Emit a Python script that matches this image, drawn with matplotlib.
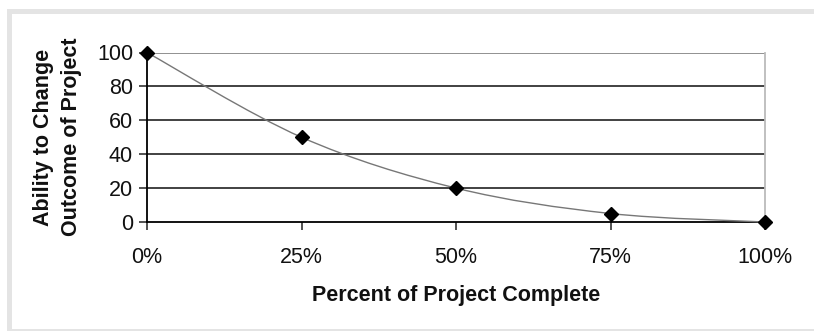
import matplotlib
matplotlib.use("Agg")
import matplotlib.pyplot as plt
from matplotlib.path import Path
from matplotlib.patches import PathPatch, Rectangle
import numpy as np

plt.rcParams['font.family'] = ['Liberation Sans', 'DejaVu Sans']

# Data
percent_complete = [0, 25, 50, 75, 100]
ability_to_change = [100, 50, 20, 5, 0]
x_tick_labels = ['0%', '25%', '50%', '75%', '100%']
y_ticks = [0, 20, 40, 60, 80, 100]

W, H = 814, 331
fig = plt.figure(figsize=(W / 100, H / 100), dpi=100)
fig.patch.set_facecolor('white')

# Light grey outer frame
fig.patches.append(Rectangle((8.5 / W, 1 - 330.5 / H), (W + 10) / W, (330.5 - 10.5) / H,
                             transform=fig.transFigure, fill=False,
                             edgecolor='#e4e4e4', linewidth=3.6, zorder=0))

left, right, top, bottom = 147, 765, 52.5, 222
ax = fig.add_axes([left / W, 1 - bottom / H, (right - left) / W, (bottom - top) / H])
ax.set_xlim(0, 100)
ax.set_ylim(0, 100)

# Horizontal gridlines
for yv in y_ticks[1:]:
    ax.axhline(yv, color='#333333' if yv < 100 else '#888888', linewidth=1.3, zorder=1)

# Smooth bezier curve through the points (Catmull-Rom style control points)
xs = np.array(percent_complete, dtype=float)
ys = np.array(ability_to_change, dtype=float)
pts = np.column_stack([xs, ys])
n = len(pts)
verts = [tuple(pts[0])]
codes = [Path.MOVETO]
for i in range(n - 1):
    p0 = pts[i - 1] if i > 0 else pts[i]
    p1 = pts[i]
    p2 = pts[i + 1]
    p3 = pts[i + 2] if i + 2 < n else pts[i + 1]
    c1 = p1 + (p2 - p0) / 6.0
    c2 = p2 - (p3 - p1) / 6.0
    verts += [tuple(c1), tuple(c2), tuple(p2)]
    codes += [Path.CURVE4] * 3
ax.add_patch(PathPatch(Path(verts, codes), fill=False, edgecolor='#777777',
                       linewidth=1.0, zorder=3, clip_on=False))

ax.plot(percent_complete, ability_to_change, linestyle='none', marker='D',
        markersize=7, color='black', zorder=4, clip_on=False)

# Spines
ax.spines['top'].set_visible(False)
ax.spines['right'].set_color('#bbbbbb')
ax.spines['right'].set_linewidth(1.3)
ax.spines['left'].set_color('black')
ax.spines['left'].set_linewidth(1.3)
ax.spines['bottom'].set_color('black')
ax.spines['bottom'].set_linewidth(1.3)

ax.set_xticks(percent_complete)
ax.set_xticklabels(x_tick_labels)
ax.set_yticks(y_ticks)
ax.tick_params(axis='both', direction='out', length=6, width=1.2, color='#333333',
               labelsize=15.5, labelcolor='#111111')
ax.tick_params(axis='x', pad=12)
ax.tick_params(axis='y', pad=4)

ax.set_xlabel('Percent of Project Complete', fontsize=15.5, fontweight='bold',
              labelpad=12, color='#111111')
ax.set_ylabel('Ability to Change\nOutcome of Project', fontsize=15.5,
              fontweight='bold', labelpad=11, linespacing=1.4, color='#111111')

fig.savefig('out.png', dpi=100, facecolor='white')
